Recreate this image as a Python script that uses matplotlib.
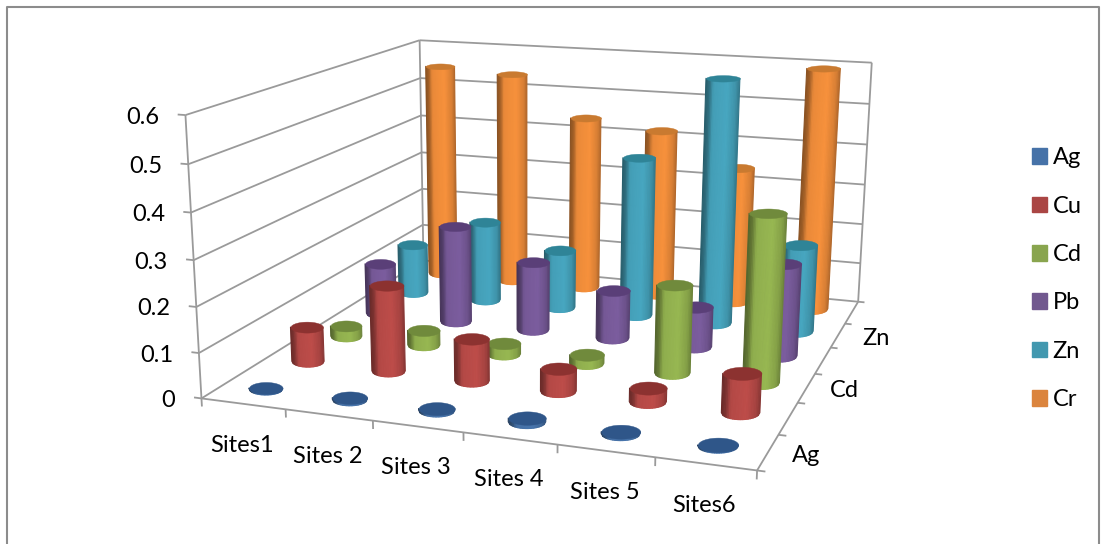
import numpy as np
import matplotlib
matplotlib.use('Agg')
import matplotlib.pyplot as plt
from matplotlib.patches import Patch
from matplotlib.transforms import IdentityTransform
from mpl_toolkits.mplot3d.art3d import Poly3DCollection, Line3DCollection

sites = ['Sites1', 'Sites 2', 'Sites 3', 'Sites 4', 'Sites 5', 'Sites6']
series = ['Ag', 'Cu', 'Cd', 'Pb', 'Zn', 'Cr']
depth_labels = {0: 'Ag', 2: 'Cd', 4: 'Zn'}
value_ticks = [0, 0.1, 0.2, 0.3, 0.4, 0.5, 0.6]

ag = [0.002, 0.004, 0.004, 0.008, 0.004, 0.002]
cu = [0.08, 0.195, 0.095, 0.05, 0.03, 0.085]
cd = [0.025, 0.035, 0.025, 0.02, 0.20, 0.375]
pb = [0.125, 0.235, 0.165, 0.115, 0.095, 0.215]
zn = [0.125, 0.20, 0.145, 0.39, 0.59, 0.21]
cr = [0.55, 0.54, 0.44, 0.42, 0.34, 0.595]
values = [ag, cu, cd, pb, zn, cr]

side_colors = ['#4672A8', '#B84A47', '#93B24F', '#785A9A', '#45A2BB', '#F08D3A']
top_colors = ['#2F5689', '#8C3230', '#708A3C', '#5A3F78', '#2F8497', '#C97A30']
legend_colors = ['#4672A8', '#AA4644', '#89A54E', '#71588F', '#4298AF', '#DB843D']

W, H = 1105, 544
GRID = '#9a9a9a'
FONT = 'Lato'
FS = 17

# where the box corners of the chart sit on the picture
box_pts = [(0, 0, 0), (6, 0, 0), (0, 0, 0.6), (0, 6, 0.6), (6, 6, 0.6), (6, 6, 0), (0, 6, 0)]
px_pts = [(201, 398), (757, 471), (186, 115), (419, 40), (872, 63), (858, 301), (424, 261)]


def fit_camera():
    rows = []
    for (x, y, z), (u, v) in zip(box_pts, px_pts):
        v = H - v
        p = [x, y, z * 10, 1]
        rows.append(p + [0, 0, 0, 0] + [-u * c for c in p])
        rows.append([0, 0, 0, 0] + p + [-v * c for c in p])
    P = np.linalg.svd(np.array(rows, float))[2][-1].reshape(3, 4)
    P[:, 2] *= 10
    return P / (P[2] @ [3, 3, 0.3, 1])


fig = plt.figure(figsize=(W / 100, H / 100), dpi=100)
ax = fig.add_axes([0, 0, 1, 1], projection='3d')
ax.apply_aspect = lambda position=None, location=None: None
ax.computed_zorder = False
ax.set_axis_off()
ax.set_xlim(0, 6)
ax.set_ylim(0, 6)
ax.set_zlim(0, 0.6)
cam = fit_camera()
floor_inv = np.linalg.inv(cam[:, [0, 1, 3]])


def get_proj():
    Ti = ax.transData.inverted().get_matrix()
    view = Ti @ cam
    return np.array([view[0], view[1], [-0.27, 1, 0, 0], view[2]])


ax.get_proj = get_proj


def to_px(x, y, z):
    p = cam @ [x, y, z, 1]
    return p[:2] / p[2]


def label(x, y, z, dx, dy, s, ha='center'):
    px, py = to_px(x, y, z)
    ax.text2D(px + dx, py - dy, s, transform=IdentityTransform(), fontsize=FS, family=FONT,
              ha=ha, va='center', zorder=200)


def lines(segs, zo=1):
    ax.add_collection3d(Line3DCollection(segs, colors=GRID, linewidths=1.3, zorder=zo))


def foot_ring(xc, yc, t):
    # round in the picture, so take the foot circle back onto the floor
    cx, cy = to_px(xc, yc, 0)
    a = 0.2 * abs(to_px(xc + 1, yc, 0)[0] - cx)
    b = 0.36 * a
    foot = floor_inv @ np.array([cx + a * np.cos(t), cy + b * np.sin(t), np.ones(t.size)])
    return foot[0] / foot[2], foot[1] / foot[2]


def cylinder(xc, yc, h, side, top, zo):
    # front of the side, in strips of even width left to right
    u = np.linspace(0, 1, 25)
    t = 2 * np.pi - np.arccos(2 * u - 1)
    fx, fy = foot_ring(xc, yc, t)
    X = np.vstack([fx, fx])
    Y = np.vstack([fy, fy])
    Z = np.outer([0, h], np.ones(u.size))
    # dark edges, bright just past the middle
    shade = np.interp(u, [0, 0.1, 0.22, 0.6, 0.85, 1], [0.58, 0.68, 0.97, 1.03, 0.9, 0.68])
    base = np.array(matplotlib.colors.to_rgb(side))
    cols = np.column_stack([np.clip(base[None, :] * shade[:, None], 0, 1), np.ones(u.size)])
    cols = np.stack([cols, cols])
    ax.plot_surface(X, Y, Z, facecolors=cols, rstride=1, cstride=1, shade=False, linewidth=0.8, zorder=zo)
    rx, ry = foot_ring(xc, yc, np.linspace(0, 2 * np.pi, 73))
    disk = Poly3DCollection([list(zip(rx, ry, np.full(rx.size, h)))], facecolors=top, edgecolors=top,
                            linewidths=0.3, zorder=zo + 0.5)
    ax.add_collection3d(disk)


# walls and axes
segs = []
for v in value_ticks:
    segs.append([(0, 0, v), (0, 6, v)])
    segs.append([(0, 6, v), (6, 6, v)])
    segs.append([(-0.09, 0, v), (0, 0, v)])
    label(0, 0, v, -26, 2, str(v), ha='right')
segs += [[(0, 0, 0), (0, 0, 0.6)], [(0, 6, 0), (0, 6, 0.6)], [(6, 6, 0), (6, 6, 0.6)]]
segs += [[(0, 0, 0), (6, 0, 0)], [(6, 0, 0), (6, 6, 0)]]
for i in range(7):
    segs.append([(i, 0, 0), (i, 0, -0.018)])
    segs.append([(6, i, 0), (6.08, i, 0)])
lines(segs)

# cylinders, back row first
for k in range(5, -1, -1):
    for i in range(6):
        cylinder(i + 0.5, k + 0.5, values[k][i], side_colors[k], top_colors[k], 10 + (5 - k) * 10 + i)

for i, name in enumerate(sites):
    label(i + 0.5, 0, 0, -1.5, 41.5, name)
for k, name in depth_labels.items():
    label(6, k + 0.5, 0, 38, 3, name)

handles = [Patch(color=c, label=s) for c, s in zip(legend_colors, series)]
ax.legend(handles=handles, loc='upper left', bbox_to_anchor=(1011 / W, 1 - 126 / H), frameon=False,
          prop={'family': FONT, 'size': FS}, handlelength=0.64, handleheight=0.64,
          labelspacing=1.16, handletextpad=0.22)

# chart frame
fig.add_artist(plt.Line2D([6.5 / W, 6.5 / W, 1098.5 / W, 1098.5 / W], [0, 1 - 6.5 / H, 1 - 6.5 / H, 0], color='#8c8c8c', lw=1.5))

fig.savefig('out.png', dpi=100)
